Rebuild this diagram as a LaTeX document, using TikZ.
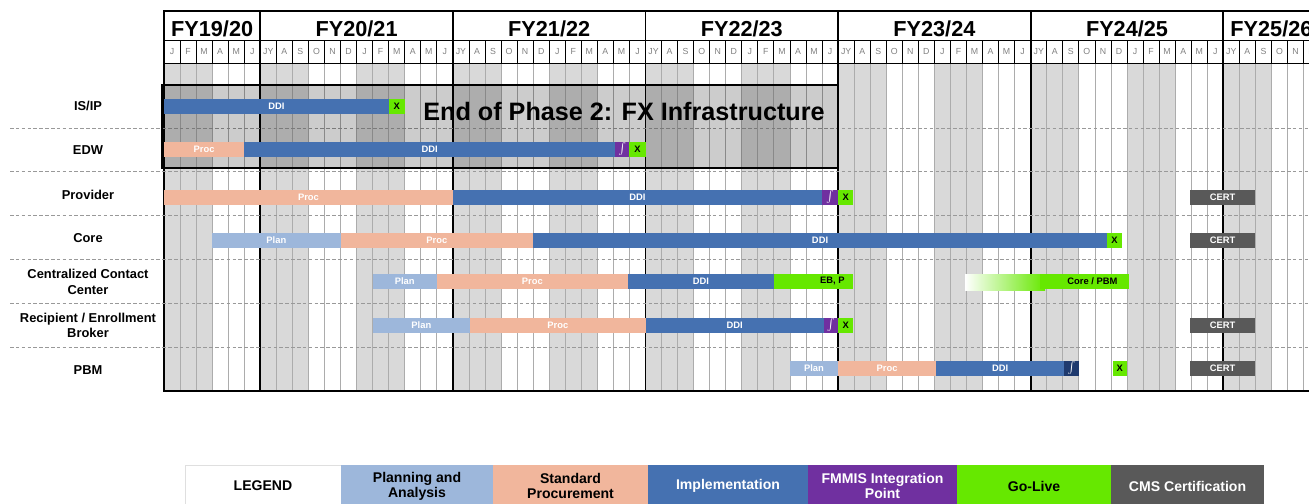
\documentclass[tikz,border=0pt]{standalone}
\usepackage{fontspec}
\setmainfont{Liberation Sans}
\usetikzlibrary{positioning,calc}

\definecolor{planblue}{HTML}{9DB7DB}
\definecolor{procpink}{HTML}{F1B69C}
\definecolor{ddiblue}{HTML}{4571B1}
\definecolor{fmmispurple}{HTML}{7030A0}
\definecolor{golivegreen}{HTML}{66E800}
\definecolor{certgray}{HTML}{595959}
\definecolor{navyint}{HTML}{1F3A6E}
\definecolor{qtrgray}{HTML}{D9D9D9}

% bar from month #3 to month #4 on row y=#5
\newcommand{\ganttbar}[6]{%
  \node[#1, anchor=west, minimum width={(#4-#3)*0.4815cm}] (#2) at ({164+16.05*#3},#5) {#6};}

\begin{document}
\begin{tikzpicture}[
    x=0.03cm, y=-0.03cm,
    gbar/.style={minimum height=0.45cm, inner sep=0pt, outer sep=0pt, text=white, font=\bfseries\fontsize{8}{9}\selectfont},
    plan/.style={gbar, fill=planblue},
    proc/.style={gbar, fill=procpink},
    ddi/.style={gbar, fill=ddiblue},
    fmmis/.style={gbar, fill=fmmispurple},
    navy/.style={gbar, fill=navyint},
    live/.style={gbar, fill=golivegreen, text=black},
    cert/.style={gbar, fill=certgray},
    rowlabel/.style={font=\bfseries\fontsize{11}{13}\selectfont, align=center},
    fylabel/.style={anchor=base, font=\bfseries\fontsize{18.5}{20}\selectfont},
    monthlabel/.style={anchor=base, inner sep=0pt, text=gray, font=\fontsize{7.5}{8}\selectfont},
    legendbox/.style={minimum height=1.26cm, inner sep=0pt, outer sep=0pt, align=center, font=\bfseries\fontsize{12}{13}\selectfont},
    rowsep/.style={gray!80, dashed, dash pattern=on 3pt off 2pt, line width=0.6pt}
]
    \useasboundingbox (0,0) rectangle (1309,504);
    \clip (0,0) rectangle (1309,504);

    % Grid
    \foreach \q in {0,2,...,22}
        \fill[qtrgray] ({164+48.15*\q},63) rectangle ({164+48.15*(\q+1)},391);
    \foreach \m in {1,...,72}
        \draw[gray!65, line width=0.7pt] ({164+16.05*\m},63) -- ({164+16.05*\m},391);

    % Header
    \foreach \m in {1,...,72}
        \draw[line width=0.7pt] ({164+16.05*\m},40) -- ({164+16.05*\m},63);
    \draw[line width=1.2pt] (163,11) -- (1309,11);
    \draw[line width=0.8pt] (163,40) -- (1309,40);
    \draw[line width=0.8pt] (163,63) -- (1309,63);
    \foreach \yr in {0,...,5}
        \foreach \l [count=\i from 0] in {J,F,M,A,M,J,JY,A,S,O,N,D}
            \node[monthlabel] (m\yr-\i) at ({164+16.05*(12*\yr+\i+0.5)},54.5) {\l};
    \foreach \c/\a/\b in {3/19/20, 12/20/21, 24/21/22, 36/22/23, 48/23/24, 60/24/25, 69/25/26}
        \node[fylabel] (fy\a) at ({164+16.05*\c},36) {FY\a/\b};
    \foreach \m in {0,6,18,30,42,54,66}
        \draw[line width=1.6pt] ({164+16.05*\m},11) -- ({164+16.05*\m},391);
    \draw[line width=1.4pt] (163,391) -- (1309,391);

    % Row separators
    \foreach \y in {128,171,215,259,303,347}
        \draw[rowsep] (10,\y) -- (1309,\y);

    % Phase 2 shading
    \fill[black, fill opacity=0.2] (162,85) rectangle (838,168);

    % Row labels
    \node[rowlabel] (isip) at (88,106) {IS/IP};
    \node[rowlabel] (edw) at (88,150) {EDW};
    \node[rowlabel] (provider) at (88,194.5) {Provider};
    \node[rowlabel] (core) at (88,238.5) {Core};
    \node[rowlabel] (ccc) at (88,282) {Centralized Contact\\Center};
    \node[rowlabel] (recip) at (88,325.5) {Recipient / Enrollment\\Broker};
    \node[rowlabel] (pbm) at (88,370) {PBM};

    % IS/IP
    \ganttbar{ddi}{isip-ddi}{0}{14}{106}{DDI}
    \ganttbar{live}{isip-x}{14}{15}{106}{X}
    % EDW
    \ganttbar{proc}{edw-proc}{0}{5}{149.5}{Proc}
    \ganttbar{ddi}{edw-ddi}{5}{28.1}{149.5}{DDI}
    \ganttbar{fmmis}{edw-int}{28.1}{29}{149.5}{$\int$}
    \ganttbar{live}{edw-x}{29}{30}{149.5}{X}
    % Provider
    \ganttbar{proc}{prov-proc}{0}{18}{197.5}{Proc}
    \ganttbar{ddi}{prov-ddi}{18}{41}{197.5}{DDI}
    \ganttbar{fmmis}{prov-int}{41}{42}{197.5}{$\int$}
    \ganttbar{live}{prov-x}{42}{42.95}{197.5}{X}
    \ganttbar{cert}{prov-cert}{63.9}{68}{197.5}{CERT}
    % Core
    \ganttbar{plan}{core-plan}{3}{11}{240.5}{Plan}
    \ganttbar{proc}{core-proc}{11}{23}{240.5}{Proc}
    \ganttbar{ddi}{core-ddi}{23}{58.75}{240.5}{DDI}
    \ganttbar{live}{core-x}{58.75}{59.7}{240.5}{X}
    \ganttbar{cert}{core-cert}{63.9}{68}{240.5}{CERT}
    % Centralized Contact Center
    \ganttbar{plan}{ccc-plan}{13}{17}{281}{Plan}
    \ganttbar{proc}{ccc-proc}{17}{28.9}{281}{Proc}
    \ganttbar{ddi}{ccc-ddi}{28.9}{38}{281}{DDI}
    \ganttbar{live}{ccc-ebp}{38}{42.95}{281}{}
    \node[anchor=east, text=black, font=\bfseries\fontsize{8}{9}\selectfont] (ccc-ebp-text) at ([xshift=-4pt]ccc-ebp.east) {EB, P};
    \shade[left color=white, right color=golivegreen] (965,274) rectangle (1045,290);
    \ganttbar{live}{ccc-corepbm}{54.6}{60.1}{281}{}
    \node[anchor=east, text=black, font=\bfseries\fontsize{8}{9}\selectfont] (ccc-corepbm-text) at ([xshift=-6pt]ccc-corepbm.east) {Core / PBM};
    % Recipient / Enrollment Broker
    \ganttbar{plan}{recip-plan}{13}{19.07}{325}{Plan}
    \ganttbar{proc}{recip-proc}{19.07}{30}{325}{Proc}
    \ganttbar{ddi}{recip-ddi}{30}{41.1}{325}{DDI}
    \ganttbar{fmmis}{recip-int}{41.1}{42}{325}{$\int$}
    \ganttbar{live}{recip-x}{42}{42.95}{325}{X}
    \ganttbar{cert}{recip-cert}{63.9}{68}{325}{CERT}
    % PBM
    \ganttbar{plan}{pbm-plan}{39}{42}{368.5}{Plan}
    \ganttbar{proc}{pbm-proc}{42}{48.1}{368.5}{Proc}
    \ganttbar{ddi}{pbm-ddi}{48.1}{56.1}{368.5}{DDI}
    \ganttbar{navy}{pbm-int}{56.1}{57}{368.5}{$\int$}
    \ganttbar{live}{pbm-x}{59.1}{60}{368.5}{X}
    \ganttbar{cert}{pbm-cert}{63.9}{68}{368.5}{CERT}

    % Phase 2 box
    \node[draw, line width=2pt, minimum width=20.28cm, minimum height=2.49cm, inner sep=0pt] (phase) at (500,126.5) {};
    \node[font=\bfseries\fontsize{21.5}{24}\selectfont] (phase-title) at (624,111) {End of Phase 2: FX Infrastructure};

    % Legend
    \node[legendbox, minimum width=4.68cm, draw=gray!25, fill=white] (legend) at (263,486) {LEGEND};
    \node[legendbox, minimum width=4.56cm, fill=planblue, right=0pt of legend] (leg-plan) {Planning and\\Analysis};
    \node[legendbox, minimum width=4.65cm, fill=procpink, right=0pt of leg-plan] (leg-proc) {Standard\\Procurement};
    \node[legendbox, minimum width=4.8cm, fill=ddiblue, text=white, right=0pt of leg-proc] (leg-impl) {Implementation};
    \node[legendbox, minimum width=4.47cm, fill=fmmispurple, text=white, right=0pt of leg-impl] (leg-fmmis) {FMMIS Integration\\Point};
    \node[legendbox, minimum width=4.62cm, fill=golivegreen, right=0pt of leg-fmmis] (leg-live) {Go-Live};
    \node[legendbox, minimum width=4.59cm, fill=certgray, text=white, right=0pt of leg-live] (leg-cert) {CMS Certification};
\end{tikzpicture}
\end{document}
